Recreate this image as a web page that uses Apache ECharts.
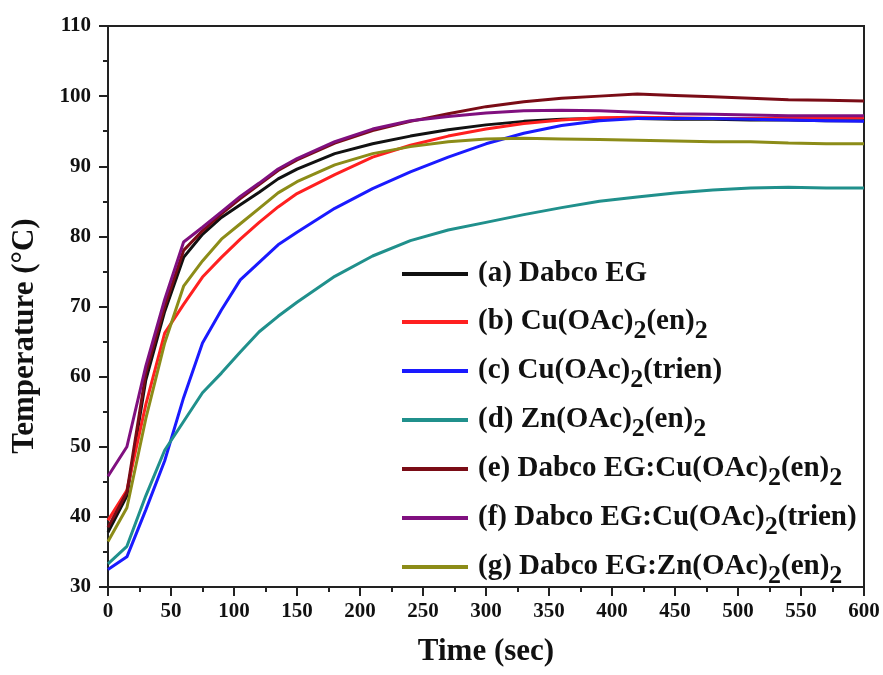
<!DOCTYPE html>
<html>
<head>
<meta charset="utf-8">
<script src="https://cdn.jsdelivr.net/npm/echarts@6/dist/echarts.min.js"></script>
<style>html,body{margin:0;padding:0;background:#fff}#c{width:883px;height:675px}</style>
</head>
<body>
<div id="c"></div>
<script>
const time = [0,15,30,45,60,75,90,105,120,135,150,180,210,240,270,300,330,360,390,420,450,480,510,540,570,600];
const seriesNames = [
  '(a) Dabco EG',
  '(b) Cu(OAc)2(en)2',
  '(c) Cu(OAc)2(trien)',
  '(d) Zn(OAc)2(en)2',
  '(e) Dabco EG:Cu(OAc)2(en)2',
  '(f) Dabco EG:Cu(OAc)2(trien)',
  '(g) Dabco EG:Zn(OAc)2(en)2'
];
const legendRich = [
  '(a) Dabco EG',
  '(b) Cu(OAc){s|2}(en){s|2}',
  '(c) Cu(OAc){s|2}(trien)',
  '(d) Zn(OAc){s|2}(en){s|2}',
  '(e) Dabco EG:Cu(OAc){s|2}(en){s|2}',
  '(f) Dabco EG:Cu(OAc){s|2}(trien)',
  '(g) Dabco EG:Zn(OAc){s|2}(en){s|2}'
];
const a_dabco = [37.8,43,59.5,69.3,77,80.3,82.7,84.5,86.3,88.2,89.6,91.8,93.2,94.3,95.2,95.9,96.4,96.7,96.8,96.8,96.7,96.7,96.6,96.6,96.5,96.5];
const b_cuen  = [39.5,43.8,56,66.2,70.3,74.2,77,79.6,82,84.2,86.1,88.8,91.3,93.0,94.3,95.3,96.1,96.6,96.9,97.0,96.9,96.8,96.8,96.8,96.9,96.9];
const c_cutrien = [32.5,34.3,41,48,57,64.8,69.5,73.8,76.3,78.8,80.6,84.0,86.8,89.2,91.3,93.2,94.7,95.8,96.5,96.8,96.8,96.8,96.7,96.6,96.5,96.4];
const d_znen  = [33.3,35.8,43,49.5,53.6,57.7,60.5,63.5,66.4,68.6,70.6,74.3,77.2,79.4,80.9,82.0,83.1,84.1,85.0,85.6,86.2,86.6,86.9,87.0,86.9,86.9];
const e_dabco_cuen = [38.5,43.5,60.5,70,78,80.8,83.2,85.4,87.4,89.4,90.9,93.3,95.1,96.4,97.5,98.5,99.2,99.7,100.0,100.3,100.1,99.9,99.7,99.5,99.4,99.3];
const f_dabco_cutrien = [45.8,50,61.5,71,79.2,81.3,83.5,85.7,87.6,89.6,91.1,93.5,95.3,96.5,97.1,97.6,97.9,98.0,97.9,97.7,97.5,97.4,97.3,97.2,97.2,97.2];
const g_dabco_znen = [36.5,41.3,54,64.8,72.9,76.5,79.6,81.8,84.0,86.2,87.8,90.2,91.8,92.8,93.5,93.9,94.0,93.9,93.8,93.7,93.6,93.5,93.5,93.3,93.2,93.2];
const allValues = [a_dabco,b_cuen,c_cutrien,d_znen,e_dabco_cuen,f_dabco_cutrien,g_dabco_znen];
const colors = ['#111111','#ff2020','#1a1aff','#20908c','#7a0c16','#80107f','#8c8c18'];
const xTicks = [0,50,100,150,200,250,300,350,400,450,500,550,600];
const yTicks = [30,40,50,60,70,80,90,100,110];

const chart = echarts.init(document.getElementById('c'));
const font = 'Liberation Serif';
chart.setOption({
  animation:false,
  backgroundColor:'#fff',
  grid:{left:108,right:19,top:26,bottom:88,show:true,borderColor:'#222',borderWidth:2,backgroundColor:'transparent'},
  xAxis:{type:'value',min:xTicks[0],max:xTicks[xTicks.length-1],interval:50,
    name:'Time (sec)',nameLocation:'middle',nameGap:49,
    nameTextStyle:{fontFamily:font,fontWeight:'bold',fontSize:31,color:'#111'},
    axisLine:{lineStyle:{color:'#222',width:2}},
    axisTick:{inside:false,length:9,lineStyle:{color:'#222',width:2}},
    minorTick:{show:true,splitNumber:2,length:5,lineStyle:{color:'#222',width:2}},
    splitLine:{show:false},
    axisLabel:{margin:14,fontFamily:font,fontWeight:'bold',fontSize:21,color:'#111'}},
  yAxis:{type:'value',min:yTicks[0],max:yTicks[yTicks.length-1],interval:10,
    axisLine:{show:true,lineStyle:{color:'#222',width:2}},
    axisTick:{show:true,inside:false,length:9,lineStyle:{color:'#222',width:2}},
    minorTick:{show:true,splitNumber:2,length:5,lineStyle:{color:'#222',width:2}},
    splitLine:{show:false},
    axisLabel:{margin:17,fontFamily:font,fontWeight:'bold',fontSize:21,color:'#111'}},
  graphic:[{type:'text',x:25,y:336,rotation:Math.PI/2,
    style:{text:'Temperature (°C)',fontFamily:font,fontWeight:'bold',fontSize:31,fill:'#111',align:'center',verticalAlign:'middle'}}],
  legend:{orient:'vertical',left:397,top:248,itemWidth:66,itemHeight:4,itemGap:6,
    icon:'rect',
    data:seriesNames,
    formatter:function(n){return legendRich[seriesNames.indexOf(n)];},
    textStyle:{fontFamily:font,fontWeight:'bold',fontSize:29,color:'#111',padding:[0,0,0,5],lineHeight:42,
      rich:{s:{fontFamily:font,fontWeight:'bold',fontSize:26,color:'#111',padding:[18,0,0,0]}}}},
  series:allValues.map((v,i)=>({
    name:seriesNames[i],type:'line',showSymbol:false,symbol:'none',
    data:time.map((t,j)=>[t,v[j]]),
    color:colors[i],
    lineStyle:{width:3,color:colors[i]},
    itemStyle:{color:colors[i]}
  }))
});
</script>
</body>
</html>
